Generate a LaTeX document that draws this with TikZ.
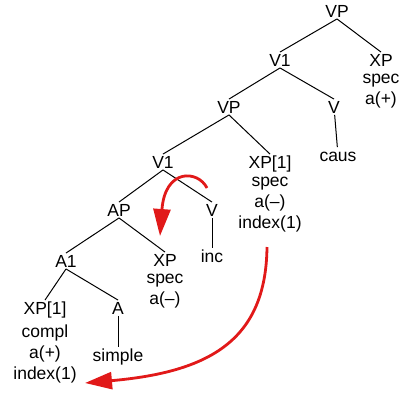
\documentclass[tikz,border=0pt]{standalone}
\usepackage{fontspec}
\setmainfont{Liberation Sans}
\usetikzlibrary{positioning,arrows.meta}

\definecolor{movered}{RGB}{225,25,25}

\tikzset{
  cat/.style={font=\fontsize{17.5}{21}\selectfont, inner sep=1.5pt, text height=12.5pt, text depth=0pt},
  feat/.style={font=\fontsize{17.5}{21}\selectfont, align=center, inner sep=0pt},
  branch/.style={line width=1pt},
  movearrow/.style={movered, line width=2.8pt, -{Triangle[length=27pt,width=17pt]}}
}

\begin{document}
\begin{tikzpicture}[x=1pt,y=-1pt]
\useasboundingbox (0,0) rectangle (400,392);

% ===== Kategorien =====
\node[cat] (VPa) at (337,11) {VP};
\node[cat] (V1a) at (280,60) {V1};
\node[cat] (XPa) at (381,60) {XP};
\node[cat] (VPb) at (229,107) {VP};
\node[cat] (Va) at (334,107) {V};
\node[cat] (V1b) at (163,162) {V1};
\node[cat] (XPb) at (270,162) {XP[1]};
\node[cat] (AP) at (119,210) {AP};
\node[cat] (Vb) at (212,210) {V};
\node[cat] (A1) at (66,261) {A1};
\node[cat] (XPc) at (165,260) {XP};
\node[cat] (XPd) at (45,308) {XP[1]};
\node[cat] (A) at (118,308) {A};

% ===== Merkmale =====
\node[feat, below=6pt of XPa] (fXPa) {spec\\a(+)};
\node[feat, below=7pt of XPb] (fXPb) {spec\\a(–)\\index(1)};
\node[feat, below=6pt of XPc] (fXPc) {spec\\a(–)};
\node[feat, below=9pt of XPd] (fXPd) {compl\\a(+)\\index(1)};

% ===== Woerter =====
\node[cat] (caus) at (338,155) {caus};
\node[cat] (inc) at (212,256) {inc};
\node[cat] (simple) at (118,355) {simple};

% ===== Kanten =====
\draw[branch] (VPa.south) -- (V1a.north);
\draw[branch] (VPa.south) -- (XPa.north);
\draw[branch] (V1a.south) -- (VPb.north);
\draw[branch] (V1a.south) -- (Va.north);
\draw[branch] (VPb.south) -- (V1b.north);
\draw[branch] (VPb.south) -- (XPb.north);
\draw[branch] (V1b.south) -- (AP.north);
\draw[branch] (V1b.south) -- (Vb.north);
\draw[branch] (AP.south) -- (A1.north);
\draw[branch] (AP.south) -- (XPc.north);
\draw[branch] (A1.south) -- (XPd.north);
\draw[branch] (A1.south) -- (A.north);
\draw[branch] (Va) -- (caus);
\draw[branch] (Vb) -- (inc);
\draw[branch] (A) -- (simple);

% ===== Bewegungen =====
\coordinate (m1s) at (207,188);
\coordinate (m1e) at (160,236);
\draw[movearrow] (m1s) .. controls (198,170) and (165,168) .. (m1e);

\coordinate (m2s) at (267,247);
\coordinate (m2e) at (85,383);
\draw[movearrow] (m2s) .. controls (266,340) and (210,372) .. (m2e);

\end{tikzpicture}
\end{document}
